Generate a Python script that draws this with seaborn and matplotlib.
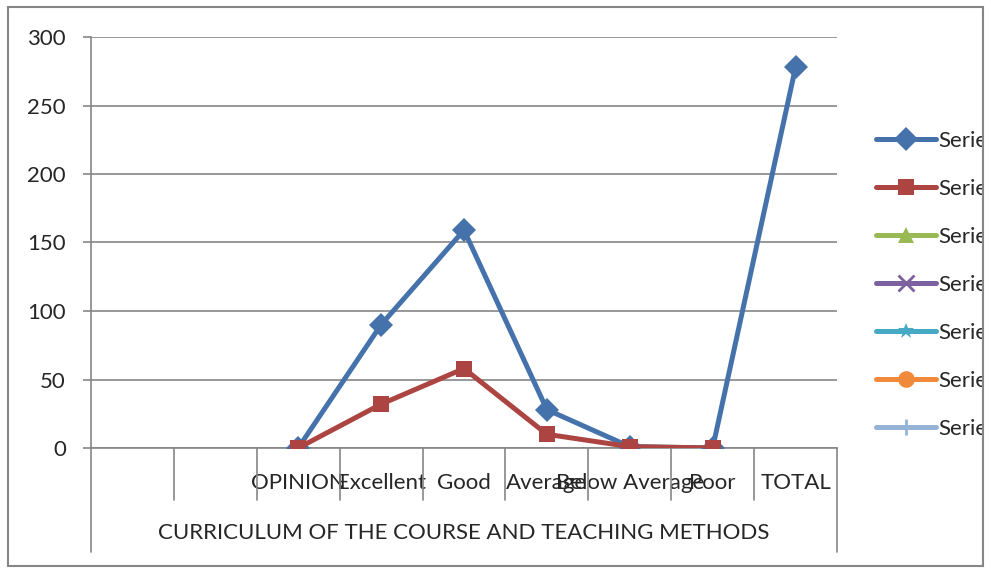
import numpy as np
import pandas as pd
import matplotlib.pyplot as plt
import seaborn as sns
from matplotlib.lines import Line2D
from matplotlib.patches import Rectangle
import matplotlib.transforms as mtransforms

# data
categories = ['', '', 'OPINION', 'Excellent', 'Good', 'Average', 'Below Average', 'Poor', 'TOTAL']
series1 = [np.nan, np.nan, 0, 90, 159, 28, 1, 0, 278]
series2 = [np.nan, np.nan, 0, 32, 58, 10, 1, 0, np.nan]
series_names = ['Series1', 'Series2', 'Series3', 'Series4', 'Series5', 'Series6', 'Series7']
group_label = 'CURRICULUM OF THE COURSE AND TEACHING METHODS'

colors = ['#4672AC', '#AC4542', '#98B954', '#7D60A0', '#46AAC5', '#F08A3A', '#95B3D7']
markers = ['D', 's', '^', 'x', '*', 'o', '+']

sns.set_style('white')
plt.rcParams['font.family'] = ['Lato', 'DejaVu Sans']
fs = 16

pos = np.arange(len(categories))
df = pd.DataFrame({
    'pos': np.concatenate([pos, pos]),
    'value': series1 + series2,
    'Series': ['Series1'] * len(pos) + ['Series2'] * len(pos),
}).dropna()

fig = plt.figure(figsize=(9.91, 5.73), dpi=100)
ax = fig.add_axes([91 / 991, 125 / 573, 746 / 991, 411 / 573])

sns.lineplot(data=df, x='pos', y='value', hue='Series', style='Series',
             palette={'Series1': colors[0], 'Series2': colors[1]},
             markers={'Series1': 'D', 'Series2': 's'}, dashes=False,
             linewidth=3.6, markersize=12, markeredgewidth=0,
             legend=False, ax=ax, zorder=3)

ax.set_xlim(-0.5, len(categories) - 0.5)
ax.set_ylim(0, 300)
ax.set_yticks(range(0, 301, 50))
ax.set_xticks(pos)
ax.set_xticklabels(categories, fontsize=fs)
ax.tick_params(axis='x', length=0, pad=18)
ax.tick_params(axis='y', length=6, width=1.2, color='#868686', pad=12, labelsize=fs, left=True)
ax.set_xlabel('')
ax.set_ylabel('')
ax.grid(axis='y', color='#868686', linewidth=1.2)
ax.set_axisbelow(True)
for s in ['top', 'right']:
    ax.spines[s].set_visible(False)
for s in ['left', 'bottom']:
    ax.spines[s].set_color('#868686')
    ax.spines[s].set_linewidth(1.2)

# multi-level category axis separators
trans = mtransforms.blended_transform_factory(ax.transData, ax.transAxes)
for i in range(len(categories) + 1):
    x = i - 0.5
    bottom = -0.253 if i in (0, len(categories)) else -0.127
    ax.plot([x, x], [0, bottom], color='#868686', lw=1.2, transform=trans, clip_on=False)
ax.text((len(categories) - 1) / 2, -0.207, group_label, transform=trans,
        ha='center', va='center', fontsize=fs)

handles = [Line2D([0], [0], color=c, marker=m, lw=3.6, markersize=12,
                  markeredgewidth=0 if m not in ('x', '+') else 2, markeredgecolor=c)
           for c, m in zip(colors, markers)]
leg = fig.legend(handles, series_names, loc='upper left', bbox_to_anchor=(876 / 991, (573 - 131) / 573),
                 frameon=False, fontsize=fs, handlelength=2.7, handletextpad=0.1, labelspacing=1.26,
                 borderaxespad=0, borderpad=0)

# chart border that cuts the legend text like the original
fig.patches.append(Rectangle((984 / 991, 0), 7 / 991, 1, transform=fig.transFigure,
                             facecolor='white', edgecolor='none', zorder=10))
fig.patches.append(Rectangle((8 / 991, 7 / 573), 975 / 991, 559 / 573, transform=fig.transFigure,
                             facecolor='none', edgecolor='#868686', lw=1.5, zorder=11))

plt.savefig('out.png', dpi=100)
